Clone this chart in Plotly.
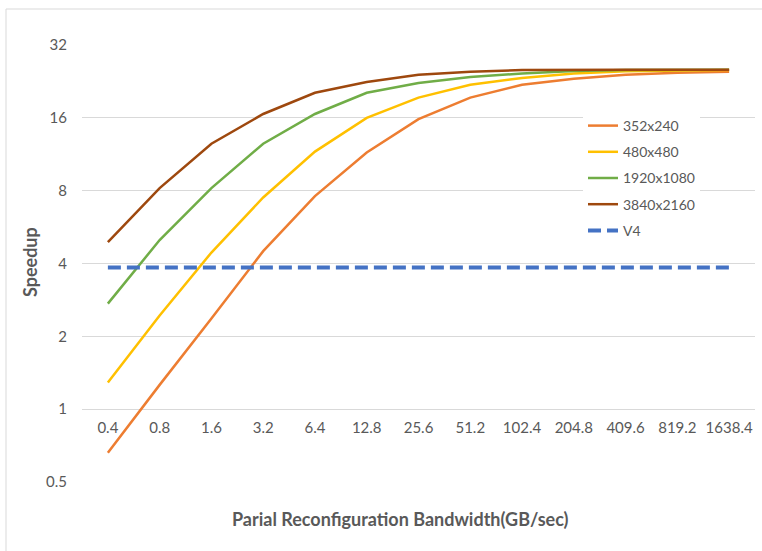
import math
import plotly.graph_objects as go

bandwidth = ["0.4", "0.8", "1.6", "3.2", "6.4", "12.8", "25.6", "51.2",
             "102.4", "204.8", "409.6", "819.2", "1638.4"]

res_352x240 = [0.66, 1.26, 2.37, 4.5, 7.6, 11.5, 15.8, 19.4, 21.9, 23.2, 24.1, 24.6, 24.8]
res_480x480 = [1.29, 2.44, 4.44, 7.5, 11.6, 16.0, 19.4, 21.9, 23.4, 24.4, 24.9, 25.1, 25.2]
res_1920x1080 = [2.73, 5.0, 8.2, 12.5, 16.6, 20.3, 22.3, 23.6, 24.4, 25.0, 25.2, 25.3, 25.3]
res_3840x2160 = [4.9, 8.2, 12.5, 16.6, 20.3, 22.5, 24.1, 24.8, 25.2, 25.3, 25.3, 25.3, 25.3]
v4 = [3.85] * len(bandwidth)

y_ticks = [0.5, 1, 2, 4, 8, 16, 32]

series = [
    ("352x240", res_352x240, "#ED7D31"),
    ("480x480", res_480x480, "#FFC000"),
    ("1920x1080", res_1920x1080, "#70AD47"),
    ("3840x2160", res_3840x2160, "#9E480E"),
]

FONT = "Lato"
GREY = "#595959"

# plot area in pixels (from the reference)
L, R, T, B = 82, 755, 45, 482
W, H = 762, 551
pw, ph = R - L, B - T

fig = go.Figure()
for name, vals, color in series:
    fig.add_trace(go.Scatter(
        x=bandwidth, y=vals, name=name, mode="lines", legendgroup=name,
        line=dict(color=color, width=2.5),
    ))
fig.add_trace(go.Scatter(
    x=bandwidth, y=v4, name="V4", mode="lines", legendgroup="V4",
    line=dict(color="#4472C4", width=4, dash="13px,6px"),
))

# x axis sits at y=1 like the Excel original
pos_one = (math.log2(1) - math.log2(0.5)) / (math.log2(32) - math.log2(0.5))

fig.update_layout(
    width=W, height=H,
    margin=dict(l=L, r=W - R, t=T, b=H - B),
    plot_bgcolor="white", paper_bgcolor="white",
    font=dict(family=FONT, size=14, color=GREY),
    xaxis=dict(
        type="category", range=[-0.5, len(bandwidth) - 0.5],
        showgrid=False, showline=False, zeroline=False, ticks="",
        anchor="free", position=pos_one, ticklabelstandoff=8,
        tickfont=dict(family=FONT, size=15, color=GREY),
    ),
    yaxis=dict(
        type="log", range=[math.log10(0.5), math.log10(32)],
        tickvals=y_ticks, ticktext=[str(v) for v in y_ticks],
        showgrid=True, gridcolor="#D9D9D9", gridwidth=1,
        showline=False, zeroline=False, ticks="", ticklabelstandoff=14,
        tickfont=dict(family=FONT, size=15, color=GREY),
    ),
    showlegend=True,
    legend=dict(
        x=(583 - L) / pw, y=(B - 110) / ph, xanchor="left", yanchor="top",
        bgcolor="white", borderwidth=0, tracegroupgap=5,
        font=dict(family=FONT, size=14, color=GREY),
    ),
    shapes=[dict(
        type="rect", xref="paper", yref="paper",
        x0=(6 - L) / pw, x1=(770 - L) / pw,
        y0=(B - 560) / ph, y1=(B - 9) / ph,
        line=dict(color="#D9D9D9", width=1), layer="below",
    )],
    annotations=[
        dict(text="<b>Parial Reconfiguration Bandwidth(GB/sec)</b>",
             xref="paper", yref="paper", x=(400 - L) / pw, y=(B - 519) / ph,
             xanchor="center", yanchor="middle",
             showarrow=False, font=dict(family=FONT, size=18, color=GREY)),
        dict(text="<b>Speedup</b>", textangle=-90,
             xref="paper", yref="paper", x=(30 - L) / pw, y=(B - 262) / ph,
             xanchor="center", yanchor="middle",
             showarrow=False, font=dict(family=FONT, size=18, color=GREY)),
    ],
)

# page has no body margin so the chart starts at the window corner
fig.write_html("out.html", config={"displayModeBar": False},
               post_script="document.body.style.margin='0';")
